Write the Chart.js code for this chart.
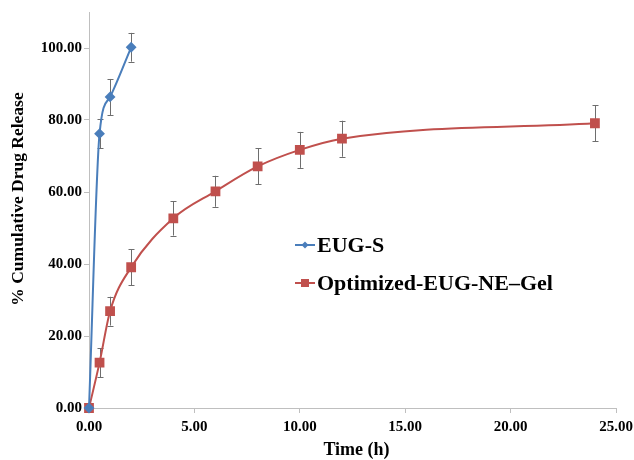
<!DOCTYPE html>
<html lang="en">
  <head>
    <meta http-equiv="content-type" content="text/html; charset=UTF-8">
    <title>Cumulative drug release</title>
    <style>
      body { margin: 0; background: #fff; }
      .wrap { position: relative; width: 634px; height: 460px; }
      .legend { position: absolute; left: 295px; top: 226px; font-family: "Liberation Serif", serif; font-weight: bold; font-size: 22px; color: #000; }
      .legend-item { display: flex; align-items: center; height: 38px; }
      .swatch { position: relative; width: 20px; height: 2px; margin-right: 2px; }
      .swatch i { position: absolute; left: 50%; top: 50%; }
      .blue { background: #4A7EBB; }
      .blue i { width: 5px; height: 5px; background: #4A7EBB; transform: translate(-50%, -50%) rotate(45deg); }
      .red { background: #C0504D; }
      .red i { width: 8px; height: 8px; background: #C0504D; transform: translate(-50%, -50%); }
    </style>
  </head>
  <body>
    <div class="wrap">
      <canvas id="chart" width="634" height="460"></canvas>
      <div class="legend">
        <div class="legend-item"><span class="swatch blue"><i></i></span>EUG-S</div>
        <div class="legend-item"><span class="swatch red"><i></i></span>Optimized-EUG-NE&ndash;Gel</div>
      </div>
    </div>
  </body>
  <script src="https://cdn.jsdelivr.net/npm/chart.js"></script>
  <script>
    /* Data */
    const timeEugS = [0, 0.5, 1, 2];
    const releaseEugS = [0, 76.2, 86.4, 100.2];
    const errorEugS = [0, 4, 5, 4];

    const timeGel = [0, 0.5, 1, 2, 4, 6, 8, 10, 12, 24];
    const releaseGel = [0, 12.6, 26.9, 39.1, 52.7, 60.2, 67.1, 71.7, 74.8, 79.1];
    const errorGel = [0, 4, 4, 5, 4.8, 4.3, 5, 5, 5, 5];

    const xTicks = [0, 5, 10, 15, 20, 25];
    const yTicks = [0, 20, 40, 60, 80, 100];

    const xTitle = 'Time (h)';
    const yTitle = '% Cumulative Drug Release';

    const blue = '#4A7EBB';
    const red = '#C0504D';
    const axisColor = '#BFBFBF';
    const font = { family: 'Liberation Serif', weight: 'bold', size: 15 };

    function toPoints(xs, ys) {
      return xs.map((x, i) => ({ x: x, y: ys[i] }));
    }

    /* Error bars drawn through the scales */
    const errorBars = {
      id: 'errorBars',
      beforeDatasetsDraw(chart) {
        const ctx = chart.ctx;
        const xs = chart.scales.x;
        const ys = chart.scales.y;
        ctx.save();
        ctx.strokeStyle = '#6E6E6E';
        ctx.lineWidth = 1;
        chart.data.datasets.forEach(ds => {
          ds.data.forEach((p, i) => {
            const e = ds.errors[i];
            if (!e) return;
            const px = Math.round(xs.getPixelForValue(p.x)) + 0.5;
            const top = ys.getPixelForValue(p.y + e);
            const bottom = ys.getPixelForValue(p.y - e);
            ctx.beginPath();
            ctx.moveTo(px, top);
            ctx.lineTo(px, bottom);
            ctx.moveTo(px - 3, Math.round(top) + 0.5);
            ctx.lineTo(px + 3, Math.round(top) + 0.5);
            ctx.moveTo(px - 3, Math.round(bottom) + 0.5);
            ctx.lineTo(px + 3, Math.round(bottom) + 0.5);
            ctx.stroke();
          });
        });
        ctx.restore();
      }
    };

    /* Axis titles, placed like the original figure */
    const axisTitles = {
      id: 'axisTitles',
      afterDraw(chart) {
        const ctx = chart.ctx;
        const area = chart.chartArea;
        ctx.save();
        ctx.fillStyle = '#000';
        ctx.textAlign = 'center';
        ctx.textBaseline = 'middle';
        ctx.font = 'bold 18px "Liberation Serif"';
        ctx.fillText(xTitle, (area.left + area.right) / 2 + 4, 450);
        ctx.font = 'bold 17.5px "Liberation Serif"';
        ctx.translate(18, (area.top + area.bottom) / 2 - 11);
        ctx.rotate(-Math.PI / 2);
        ctx.fillText(yTitle, 0, 0);
        ctx.restore();
      }
    };

    new Chart(document.getElementById('chart'), {
      type: 'line',
      data: {
        datasets: [
          {
            label: 'EUG-S',
            data: toPoints(timeEugS, releaseEugS),
            errors: errorEugS,
            borderColor: blue,
            backgroundColor: blue,
            borderWidth: 2,
            pointStyle: 'rectRot',
            pointRadius: 4,
            cubicInterpolationMode: 'monotone',
            clip: false
          },
          {
            label: 'Optimized-EUG-NE–Gel',
            data: toPoints(timeGel, releaseGel),
            errors: errorGel,
            borderColor: red,
            backgroundColor: red,
            borderWidth: 2,
            pointStyle: 'rect',
            pointRadius: 5.5,
            cubicInterpolationMode: 'monotone',
            clip: false
          }
        ]
      },
      options: {
        responsive: false,
        animation: false,
        layout: { padding: { top: 12, right: 18, left: 0, bottom: 0 } },
        plugins: {
          legend: { display: false },
          tooltip: { enabled: false }
        },
        scales: {
          x: {
            type: 'linear',
            min: 0,
            max: 25,
            afterBuildTicks: s => { s.ticks = xTicks.map(v => ({ value: v })); },
            afterFit: s => { s.height = 52; s.paddingRight = 0; s.paddingLeft = 0; },
            ticks: { color: '#000', font: font, padding: 5, maxRotation: 0, callback: v => v.toFixed(2) },
            grid: { drawOnChartArea: false, tickLength: 5, color: axisColor },
            border: { color: axisColor }
          },
          y: {
            min: 0,
            max: 110,
            afterBuildTicks: s => { s.ticks = yTicks.map(v => ({ value: v })); },
            afterFit: s => { s.width = 89; },
            ticks: { color: '#000', font: font, padding: 2, callback: v => v.toFixed(2) },
            grid: { drawOnChartArea: false, tickLength: 5, color: axisColor },
            border: { color: axisColor }
          }
        }
      },
      plugins: [errorBars, axisTitles]
    });
  </script>
</html>
